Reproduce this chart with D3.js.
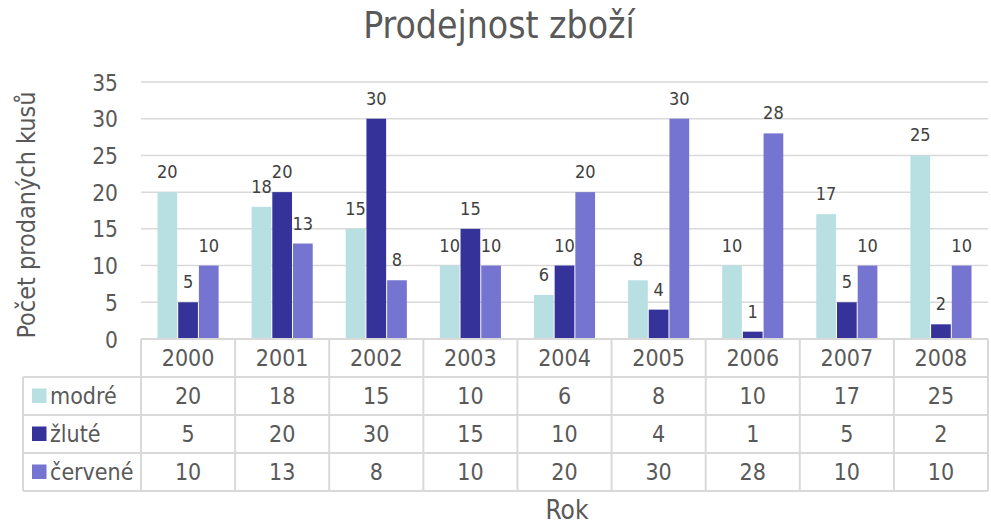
<!DOCTYPE html>
<html>
<head>
<meta charset="utf-8">
<script src="https://cdn.jsdelivr.net/npm/d3@7"></script>
<style>
  html, body { margin: 0; padding: 0; background: #fff; }
  svg { display: block; }
  text { font-family: "DejaVu Sans Condensed", "DejaVu Sans", sans-serif; font-stretch: condensed; }
</style>
</head>
<body>
<svg id="chart" width="991" height="524"></svg>
<script>
// Sales by year for three product colours
const years = ["2000", "2001", "2002", "2003", "2004", "2005", "2006", "2007", "2008"];
const seriesNames = ["modré", "žluté", "červené"];
const modre = [20, 18, 15, 10, 6, 8, 10, 17, 25];
const zlute = [5, 20, 30, 15, 10, 4, 1, 5, 2];
const cervene = [10, 13, 8, 10, 20, 30, 28, 10, 10];
const seriesColors = ["#b8e0e3", "#35329a", "#7574d0"];
const yTicks = [0, 5, 10, 15, 20, 25, 30, 35];

const seriesValues = [modre, zlute, cervene];
const series = seriesNames.map((name, i) => ({ name, color: seriesColors[i], values: seriesValues[i] }));

const svg = d3.select("#chart");
const plotLeft = 141, plotRight = 988, plotTop = 82, plotBottom = 339;
const rowH = 38;
const tableLeft = 23;
const grid = "#d9d9d9";
const textColor = "#595959";

const x = d3.scaleBand().domain(years).range([plotLeft, plotRight]).paddingInner(0).paddingOuter(0);
const bw = x.bandwidth();
const xs = d3.scaleBand().domain(seriesNames).range([bw * 0.17, bw * 0.83]).padding(0);
const y = d3.scaleLinear().domain([0, 35]).range([plotBottom, plotTop]);

// Title
svg.append("text")
  .attr("x", 499).attr("y", 38)
  .attr("text-anchor", "middle")
  .attr("font-size", 37)
  .attr("fill", textColor)
  .text("Prodejnost zboží");

// Horizontal gridlines
svg.append("g").selectAll("line").data(yTicks.filter(d => d > 0)).join("line")
  .attr("x1", plotLeft).attr("x2", plotRight)
  .attr("y1", d => y(d)).attr("y2", d => y(d))
  .attr("stroke", grid).attr("stroke-width", 1.5);

// Y axis tick labels
const yAxis = d3.axisLeft(y).tickValues(yTicks).tickSize(0).tickPadding(0);
const gy = svg.append("g").attr("transform", `translate(${plotLeft - 23},0)`).call(yAxis);
gy.select(".domain").remove();
gy.selectAll("text").attr("font-size", 22.5).attr("fill", textColor)
  .attr("font-family", null).attr("dy", "0.36em");

// Y axis title
svg.append("text")
  .attr("transform", `translate(35,215) rotate(-90)`)
  .attr("text-anchor", "middle")
  .attr("font-size", 25)
  .attr("fill", textColor)
  .text("Počet prodaných kusů");

// Bars
const groups = svg.append("g").selectAll("g").data(years).join("g")
  .attr("transform", d => `translate(${x(d)},0)`);

groups.selectAll("rect")
  .data((yr, i) => series.map(s => ({ name: s.name, color: s.color, value: s.values[i] })))
  .join("rect")
  .attr("x", d => xs(d.name) + 0.5)
  .attr("width", xs.bandwidth() - 1)
  .attr("y", d => y(d.value))
  .attr("height", d => y(0) - y(d.value))
  .attr("fill", d => d.color);

// Value labels above the bars
groups.selectAll("text.val")
  .data((yr, i) => series.map(s => ({ name: s.name, value: s.values[i] })))
  .join("text")
  .attr("class", "val")
  .attr("x", d => xs(d.name) + xs.bandwidth() / 2)
  .attr("y", d => y(d.value) - 14)
  .attr("text-anchor", "middle")
  .attr("font-size", 18)
  .attr("fill", "#404040")
  .text(d => d.value);

// Data table below the plot
const table = svg.append("g");
const rowsTop = plotBottom + rowH;           // first series row
const tableBottom = rowsTop + rowH * series.length;

// horizontal lines
table.append("line")
  .attr("x1", plotLeft).attr("x2", plotRight).attr("y1", plotBottom).attr("y2", plotBottom)
  .attr("stroke", grid).attr("stroke-width", 2);
d3.range(series.length + 1).forEach(k => {
  const yy = rowsTop + k * rowH;
  table.append("line")
    .attr("x1", tableLeft).attr("x2", plotRight).attr("y1", yy).attr("y2", yy)
    .attr("stroke", grid).attr("stroke-width", 2);
});
// vertical lines
years.forEach(yr => table.append("line")
  .attr("x1", x(yr)).attr("x2", x(yr)).attr("y1", plotBottom).attr("y2", tableBottom)
  .attr("stroke", grid).attr("stroke-width", 2));
table.append("line")
  .attr("x1", plotRight).attr("x2", plotRight).attr("y1", plotBottom).attr("y2", tableBottom)
  .attr("stroke", grid).attr("stroke-width", 2);
table.append("line")
  .attr("x1", tableLeft).attr("x2", tableLeft).attr("y1", rowsTop).attr("y2", tableBottom)
  .attr("stroke", grid).attr("stroke-width", 2);

// year header cells
table.selectAll("text.yr").data(years).join("text")
  .attr("class", "yr")
  .attr("x", d => x(d) + bw / 2)
  .attr("y", plotBottom + rowH / 2)
  .attr("dy", "0.36em")
  .attr("text-anchor", "middle")
  .attr("font-size", 23)
  .attr("fill", textColor)
  .text(d => d);

// series rows
series.forEach((s, r) => {
  const cy = rowsTop + r * rowH + rowH / 2;
  table.append("rect")
    .attr("x", 32).attr("y", cy - 7.5).attr("width", 14.5).attr("height", 14.5)
    .attr("fill", s.color);
  table.append("text")
    .attr("x", 50).attr("y", cy).attr("dy", "0.36em")
    .attr("font-size", 23).attr("fill", textColor)
    .text(s.name);
  table.selectAll(null).data(s.values).join("text")
    .attr("x", (d, i) => x(years[i]) + bw / 2)
    .attr("y", cy).attr("dy", "0.36em")
    .attr("text-anchor", "middle")
    .attr("font-size", 23).attr("fill", textColor)
    .text(d => d);
});

// X axis title
svg.append("text")
  .attr("x", 567).attr("y", 519)
  .attr("text-anchor", "middle")
  .attr("font-size", 26)
  .attr("fill", textColor)
  .text("Rok");
</script>
</body>
</html>
